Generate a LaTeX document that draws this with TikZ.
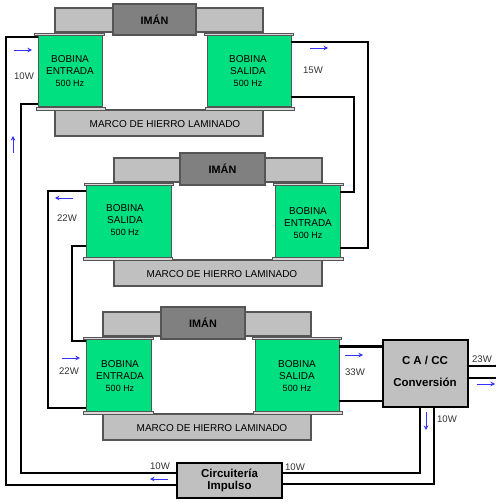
\documentclass[tikz,border=0pt]{standalone}
\usepackage{fontspec}
\setmainfont{Liberation Sans}
\usetikzlibrary{arrows.meta}
\definecolor{coilgreen}{HTML}{00E080}
\definecolor{framegray}{HTML}{C0C0C0}
\definecolor{magnetgray}{HTML}{808080}
\definecolor{edgegray}{HTML}{555555}
\definecolor{arrowblue}{HTML}{3333FF}
\definecolor{labelgray}{HTML}{333333}
\newcommand{\pxbox}[7]{%
  \pgfmathsetmacro{\pxcx}{(#3+#5)/2}\pgfmathsetmacro{\pxcy}{(#4+#6)/2}%
  \pgfmathsetmacro{\pxw}{#5-#3}\pgfmathsetmacro{\pxh}{#6-#4}%
  \node[#2,minimum width=\pxw pt,minimum height=\pxh pt] (#1) at (\pxcx,\pxcy) {#7};}
\newcommand{\hz}[1]{{\fontsize{9}{12}\selectfont #1}}
\tikzset{
  framebox/.style={draw=edgegray,line width=1.2pt,fill=framegray,inner sep=0pt,outer sep=0pt},
  magnet/.style={draw=edgegray,line width=1.2pt,fill=magnetgray,inner sep=0pt,outer sep=0pt,font=\fontsize{10.8}{12}\selectfont\bfseries},
  coil/.style={draw=edgegray,line width=1pt,fill=coilgreen,inner sep=0pt,outer sep=0pt},
  flange/.style={draw=edgegray,line width=.9pt,fill=framegray!60!white,inner sep=0pt,outer sep=0pt},
  coiltext/.style={align=center,inner sep=0pt,font=\fontsize{10}{12}\selectfont},
  marco/.style={inner sep=0pt,font=\fontsize{10}{12}\selectfont},
  procbox/.style={draw=black,line width=1.4pt,fill=framegray,inner sep=0pt,outer sep=0pt,align=center,font=\fontsize{11.5}{12.5}\selectfont\bfseries},
  wire/.style={draw=black,line width=2.2pt,line join=miter},
  flow/.style={draw=arrowblue,line width=.9pt,-{Stealth[length=4.5pt,width=4.5pt]}},
  watt/.style={inner sep=0pt,text=labelgray,font=\fontsize{9.6}{11}\selectfont},
}
\begin{document}
\begin{tikzpicture}[x=1pt,y=-1pt]
\useasboundingbox (0,0) rectangle (500,502);
% ---- Transformer 1
\pxbox{fa}{framebox}{55}{8}{113}{32}{}
\pxbox{fb}{framebox}{196}{8}{263}{32}{}
\pxbox{fc}{framebox}{55}{110}{263}{136}{}
\node[marco] (mra) at (165,124) {MARCO DE HIERRO LAMINADO};
\pxbox{ma}{magnet}{113}{4}{196}{35}{IMÁN}
\pxbox{ca}{coil}{38}{35}{102}{107}{}
\pxbox{cb}{coil}{207}{35}{291}{107}{}
\pxbox{fl1}{flange}{34}{33}{104}{35}{}
\pxbox{fl2}{flange}{36}{107}{105}{110}{}
\pxbox{fl3}{flange}{204}{33}{293}{35}{}
\pxbox{fl4}{flange}{205}{107}{294}{110}{}
\node[coiltext] (ta) at (70,71) {BOBINA\\ENTRADA\\\hz{500 Hz}};
\node[coiltext] (tb) at (248,71) {BOBINA\\SALIDA\\\hz{500 Hz}};
% ---- Transformer 2
\pxbox{fd}{framebox}{114}{158}{180}{182}{}
\pxbox{fe}{framebox}{265}{158}{322}{182}{}
\pxbox{ff}{framebox}{114}{260}{322}{286}{}
\node[marco] (mrb) at (222,274) {MARCO DE HIERRO LAMINADO};
\pxbox{mb}{magnet}{180}{153}{265}{185}{IMÁN}
\pxbox{cc}{coil}{86}{185}{171}{257}{}
\pxbox{cd}{coil}{275}{185}{340}{257}{}
\pxbox{fl5}{flange}{84}{183}{173}{185}{}
\pxbox{fl6}{flange}{83}{257}{172}{260}{}
\pxbox{fl7}{flange}{273}{183}{343}{185}{}
\pxbox{fl8}{flange}{272}{257}{343}{260}{}
\node[coiltext] (tc) at (125,220) {BOBINA\\SALIDA\\\hz{500 Hz}};
\node[coiltext] (td) at (308,223) {BOBINA\\ENTRADA\\\hz{500 Hz}};
% ---- Transformer 3
\pxbox{fg}{framebox}{103}{312}{161}{336}{}
\pxbox{fh}{framebox}{245}{312}{311}{336}{}
\pxbox{fi}{framebox}{103}{414}{311}{440}{}
\node[marco] (mrc) at (212,428) {MARCO DE HIERRO LAMINADO};
\pxbox{mc}{magnet}{161}{307}{245}{339}{IMÁN}
\pxbox{ce}{coil}{86}{339}{151}{411}{}
\pxbox{cf}{coil}{255}{339}{339}{411}{}
\pxbox{fl9}{flange}{83}{337}{153}{339}{}
\pxbox{fl10}{flange}{83}{411}{153}{414}{}
\pxbox{fl11}{flange}{252}{337}{341}{339}{}
\pxbox{fl12}{flange}{253}{411}{342}{414}{}
\node[coiltext] (te) at (120,376) {BOBINA\\ENTRADA\\\hz{500 Hz}};
\node[coiltext] (tf) at (297,376) {BOBINA\\SALIDA\\\hz{500 Hz}};
% ---- Processing boxes
\pxbox{conv}{procbox}{383}{340}{468}{407}{}
\node[inner sep=0pt,font=\fontsize{11.5}{12.5}\selectfont\bfseries] (cva) at (425,360.5) {C A / CC};
\node[inner sep=0pt,font=\fontsize{11.5}{12.5}\selectfont\bfseries] (cvb) at (425,382.5) {Conversión};
\pxbox{imp}{procbox}{177}{463}{282}{498}{Circuitería\\Impulso}
% ---- Wires
\draw[wire] (ca.west |- 0,37) -- (6,37) -- (6,485) -- (imp.west |- 0,485);
\draw[wire] (ca.west |- 0,104) -- (21,104) -- (21,473) -- (imp.west |- 0,473);
\draw[wire] (cb.east |- 0,42) -- (368,42) -- (368,248) -- (cd.east |- 0,248);
\draw[wire] (cb.east |- 0,97) -- (354,97) -- (354,192) -- (cd.east |- 0,192);
\draw[wire] (cc.west |- 0,191) -- (48,191) -- (48,408) -- (ce.west |- 0,408);
\draw[wire] (cc.west |- 0,246) -- (72,246) -- (72,341) -- (ce.west |- 0,341);
\draw[wire] (cf.east |- 0,346.5) -- (conv.west |- 0,346.5);
\draw[wire] (cf.east |- 0,401) -- (conv.west |- 0,401);
\draw[wire] (conv.south -| 420,0) -- (420,473) -- (imp.east |- 0,473);
\draw[wire] (conv.south -| 434,0) -- (434,484) -- (imp.east |- 0,484);
\coordinate (outa) at (496,366);
\coordinate (outb) at (496,378);
\draw[wire] (conv.east |- outa) -- (outa);
\draw[wire] (conv.east |- outb) -- (outb);
% ---- Flow arrows
\coordinate (f1a) at (14,50);  \coordinate (f1b) at (32,50);
\coordinate (f2a) at (13,153); \coordinate (f2b) at (13,136);
\coordinate (f3a) at (310,48); \coordinate (f3b) at (328,48);
\coordinate (f4a) at (73,198); \coordinate (f4b) at (55,198);
\coordinate (f5a) at (62,358); \coordinate (f5b) at (80,358);
\coordinate (f6a) at (345,355);\coordinate (f6b) at (363,355);
\coordinate (f7a) at (477,384);\coordinate (f7b) at (495,384);
\coordinate (f8a) at (426,412);\coordinate (f8b) at (426,430);
\coordinate (f9a) at (168,479);\coordinate (f9b) at (150,479);
\foreach \n in {1,...,9} {\draw[flow] (f\n a) -- (f\n b);}
% ---- Labels
\node[watt] (w1) at (24,76.5) {10W};
\node[watt] (w2) at (313,70) {15W};
\node[watt] (w3) at (67,218) {22W};
\node[watt] (w4) at (69,371) {22W};
\node[watt] (w5) at (355,372) {33W};
\node[watt] (w6) at (482,359) {23W};
\node[watt] (w7) at (447,419) {10W};
\node[watt] (w8) at (295,467) {10W};
\node[watt] (w9) at (160,466) {10W};
\end{tikzpicture}
\end{document}
